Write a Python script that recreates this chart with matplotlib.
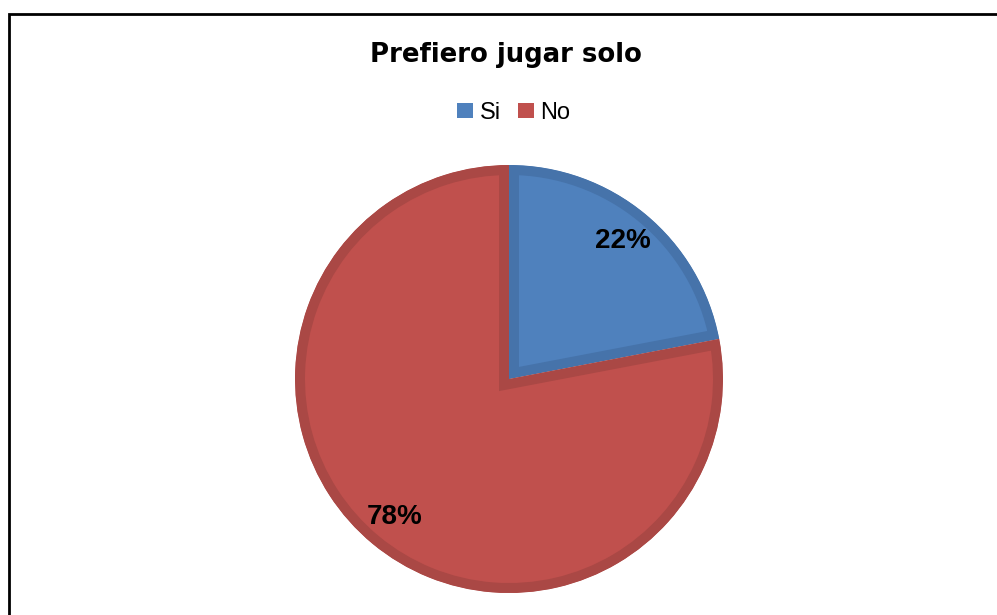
import matplotlib
matplotlib.use('Agg')
import matplotlib.pyplot as plt
import matplotlib.patches as mpatch

# data
title = 'Prefiero jugar solo'
labels = ['Si', 'No']
values = [22, 78]
fill_colors = ['#4F81BD', '#C0504D']
edge_colors = ['#4673AA', '#AA4845']

W, H = 997, 615
fig = plt.figure(figsize=(W / 100, H / 100), dpi=100)
fig.patch.set_facecolor('white')

# outer chart frame (right and bottom edges fall outside the picture)
frame = mpatch.Rectangle((8.5 / W, -0.1), 1.2, 1 - 13.5 / H + 0.1,
						 transform=fig.transFigure, fill=False,
						 edgecolor='black', linewidth=2.0, zorder=0)
fig.patches.append(frame)

# pie axes: centre (509, 379) px from top-left, radius 214 px
cx, cy, r = 509, 379, 214
ax = fig.add_axes([(cx - r) / W, (H - cy - r) / H, 2 * r / W, 2 * r / H])

wedges, texts, autotexts = ax.pie(values, colors=fill_colors, startangle=90,
								  counterclock=False, radius=1.0,
								  autopct='%1.0f%%', pctdistance=0.835,
								  wedgeprops=dict(linewidth=14.4),
								  textprops=dict(family='Liberation Sans', fontsize=20,
												 fontweight='bold', color='black'))
# stroke sits inside each slice, like the Excel rendering:
# clip a double-width edge to a copy of the slice shape
for w, ec in zip(wedges, edge_colors):
	w.set_edgecolor(ec)
	clip = mpatch.Wedge(w.center, w.r, w.theta1, w.theta2, transform=ax.transData)
	w.set_clip_on(True)
	w.set_clip_path(clip)

ax.set_xlim(-1, 1)
ax.set_ylim(-1, 1)
ax.set_aspect('equal')
ax.axis('off')

fig.text(506 / W, (H - 62) / H, title, ha='center', va='baseline',
		 family='DejaVu Sans', fontweight='bold', fontsize=18.7)

handles = [mpatch.Patch(facecolor=c, edgecolor='none') for c in fill_colors]
fig.legend(handles, labels, loc='center', bbox_to_anchor=(514 / W, (H - 113) / H),
		   ncol=2, frameon=False, prop=dict(family='Liberation Sans', size=17),
		   handlelength=0.64, handleheight=0.6, handletextpad=0.3,
		   columnspacing=0.75, borderpad=0)

fig.savefig('out.png', dpi=100)
